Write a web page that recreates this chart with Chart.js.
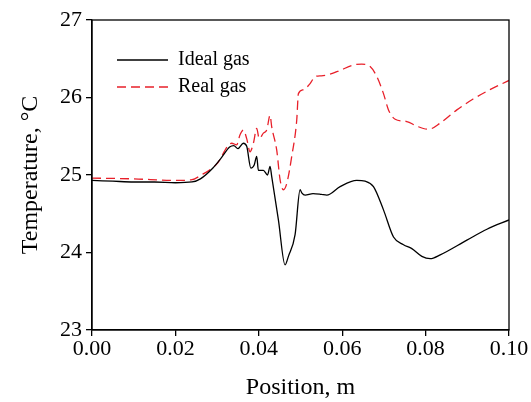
<!DOCTYPE html>
<html><head><meta charset="utf-8">
<script src="https://cdn.jsdelivr.net/npm/chart.js@4/dist/chart.umd.min.js"></script>
<style>html,body{margin:0;padding:0;background:#fff}#wrap{width:531px;height:402px}</style>
</head><body><div id="wrap"><canvas id="c" width="531" height="402"></canvas></div>
<script>
const idealX = [0.000,0.005,0.010,0.015,0.020,0.024,0.026,0.029,0.031,0.033,0.034,0.035,0.0363,0.0371,0.0381,0.0389,0.0395,0.0399,0.0411,0.0421,0.0427,0.0431,0.0447,0.0463,0.0471,0.0487,0.0499,0.0503,0.0511,0.053,0.055,0.0563,0.0595,0.0635,0.0655,0.0675,0.0699,0.0723,0.0747,0.0767,0.0791,0.0811,0.0835,0.0899,0.0947,0.100];
const idealY = [24.93,24.92,24.91,24.91,24.90,24.91,24.95,25.09,25.22,25.36,25.38,25.34,25.41,25.37,25.09,25.13,25.24,25.06,25.06,25.00,25.11,24.98,24.42,23.84,23.95,24.23,24.81,24.77,24.74,24.76,24.75,24.74,24.85,24.93,24.92,24.85,24.55,24.20,24.10,24.05,23.95,23.92,23.97,24.16,24.30,24.42];
const realX = [0.000,0.010,0.020,0.024,0.0259,0.0299,0.0335,0.0347,0.0355,0.0363,0.0371,0.0379,0.0387,0.0395,0.0401,0.0411,0.0419,0.0427,0.0431,0.0443,0.0451,0.0459,0.0467,0.0479,0.0491,0.0495,0.0507,0.0523,0.0535,0.055,0.057,0.0595,0.0627,0.0647,0.0667,0.0683,0.0699,0.0711,0.0727,0.0755,0.0779,0.0807,0.0835,0.0875,0.0914,0.0954,0.100];
const realY = [24.96,24.95,24.93,24.94,24.99,25.14,25.41,25.39,25.52,25.58,25.47,25.30,25.41,25.60,25.47,25.54,25.58,25.77,25.62,25.32,24.94,24.81,24.89,25.24,25.71,26.05,26.10,26.18,26.27,26.28,26.30,26.35,26.42,26.43,26.40,26.27,26.05,25.84,25.72,25.69,25.63,25.59,25.67,25.84,25.98,26.10,26.22];
const xTicks = [0.00,0.02,0.04,0.06,0.08,0.10];
const yTicks = [23,24,25,26,27];
const seriesNames = ['Ideal gas','Real gas'];

const FONT = '"Liberation Serif", "Times New Roman", serif';
const toPts = (xs, ys) => xs.map((x, i) => ({x: x, y: ys[i]}));

const framePlugin = {
  id: 'frame',
  afterDraw(chart) {
    const {ctx, chartArea: a} = chart;
    ctx.save();
    ctx.strokeStyle = '#000';
    ctx.lineWidth = 1.3;
    ctx.strokeRect(a.left, a.top, a.right - a.left, a.bottom - a.top);
    const items = [
      {label: seriesNames[0], color: '#000', dash: [], y: a.top + 40},
      {label: seriesNames[1], color: '#e8202a', dash: [9,5], y: a.top + 67}
    ];
    ctx.font = '20px ' + FONT;
    ctx.textBaseline = 'middle';
    ctx.fillStyle = '#000';
    items.forEach(it => {
      ctx.beginPath();
      ctx.setLineDash(it.dash);
      ctx.strokeStyle = it.color;
      ctx.lineWidth = 1.3;
      ctx.moveTo(a.left + 25, it.y);
      ctx.lineTo(a.left + 76, it.y);
      ctx.stroke();
      ctx.setLineDash([]);
      ctx.fillText(it.label, a.left + 86, it.y);
    });
    ctx.restore();
  }
};

new Chart(document.getElementById('c'), {
  type: 'line',
  data: {
    datasets: [
      {label: seriesNames[0], data: toPts(idealX, idealY), borderColor: '#000', borderWidth: 1.3, pointRadius: 0, fill: false, cubicInterpolationMode: 'monotone'},
      {label: seriesNames[1], data: toPts(realX, realY), borderColor: '#e8202a', borderWidth: 1.3, borderDash: [9,5], pointRadius: 0, fill: false, cubicInterpolationMode: 'monotone'}
    ]
  },
  options: {
    responsive: false,
    animation: false,
    devicePixelRatio: 1,
    layout: {padding: {top: 20, right: 22, left: 0, bottom: 0}},
    plugins: {legend: {display: false}, tooltip: {enabled: false}},
    scales: {
      x: {
        type: 'linear', min: 0, max: 0.1,
        afterBuildTicks: s => { s.ticks = xTicks.map(v => ({value: v})); },
        afterFit: s => { s.height = 72; },
        ticks: {font: {family: FONT, size: 22}, color: '#000', padding: 0, maxRotation: 0,
          callback: v => v.toFixed(2)},
        grid: {drawOnChartArea: false, tickLength: 6, color: '#000', lineWidth: 1.3},
        border: {color: '#000', width: 1.3},
        title: {display: true, text: 'Position, m', font: {family: FONT, size: 24}, color: '#000', padding: {top: 8, bottom: 0}}
      },
      y: {
        type: 'linear', min: 23, max: 27,
        afterBuildTicks: s => { s.ticks = yTicks.map(v => ({value: v})); },
        afterFit: s => { s.width = 92; },
        ticks: {font: {family: FONT, size: 22}, color: '#000', padding: 4,
          callback: v => String(v)},
        grid: {drawOnChartArea: false, tickLength: 6, color: '#000', lineWidth: 1.3},
        border: {color: '#000', width: 1.3},
        title: {display: true, text: 'Temperature, °C', font: {family: FONT, size: 24}, color: '#000', padding: {top: 16, bottom: 0}}
      }
    }
  },
  plugins: [framePlugin]
});
</script></body></html>
